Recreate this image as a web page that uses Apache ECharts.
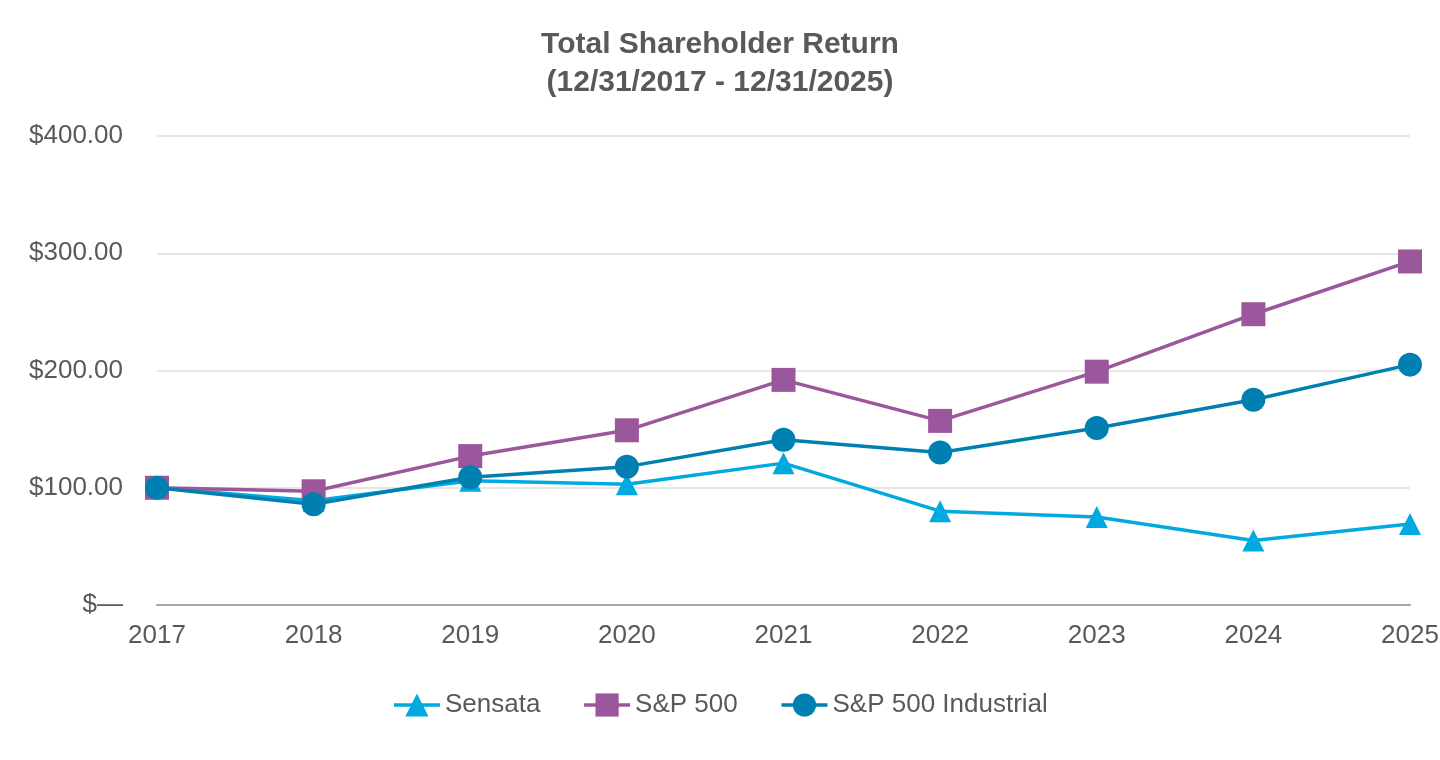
<!DOCTYPE html>
<html lang="en">
<head>
    <meta charset="UTF-8">
    <title>Total Shareholder Return</title>
    <script src="https://cdn.jsdelivr.net/npm/echarts@6/dist/echarts.min.js"></script>
    <style>
        html, body { margin: 0; padding: 0; background: #fff; }
        #main { width: 1440px; height: 760px; }
    </style>
</head>
<body>
<div id="main"></div>
<script type="text/javascript">
    // data
    var years = ['2017', '2018', '2019', '2020', '2021', '2022', '2023', '2024', '2025'];
    var sensata = [100, 89, 106, 103, 121, 80, 75, 55, 69];
    var sp500 = [100, 97, 127, 149, 192, 157, 199, 248, 293];
    var sp500Industrial = [100, 86, 109, 118, 141, 130, 151, 175, 205];
    var yTicks = { 0: '$\u2014', 100: '$100.00', 200: '$200.00', 300: '$300.00', 400: '$400.00' };

    var textColor = '#595959';
    var font = "'Liberation Sans', Arial, sans-serif";

    var myChart = echarts.init(document.getElementById('main'));

    function lineSeries(name, data, color, symbol, size) {
        return {
            name: name,
            type: 'line',
            data: data,
            symbol: symbol,
            symbolSize: size,
            lineStyle: { color: color, width: 3.5 },
            itemStyle: { color: color },
            emphasis: { disabled: true }
        };
    }

    var option = {
        animation: false,
        title: {
            text: 'Total Shareholder Return\n(12/31/2017 - 12/31/2025)',
            left: 'center',
            top: 21,
            textStyle: {
                fontFamily: font,
                fontSize: 30,
                fontWeight: 'bold',
                color: textColor,
                lineHeight: 38
            }
        },
        legend: {
            top: 687,
            left: 'center',
            itemWidth: 46,
            itemHeight: 29,
            itemGap: 42,
            lineStyle: { width: 3.5 },
            textStyle: { fontFamily: font, fontSize: 26, color: textColor },
            data: ['Sensata', 'S&P 500', 'S&P 500 Industrial']
        },
        grid: {
            left: 157,
            right: 30,
            top: 136,
            bottom: 155,
            containLabel: false,
            outerBoundsMode: 'none'
        },
        xAxis: {
            type: 'category',
            boundaryGap: false,
            data: years,
            axisLine: { lineStyle: { color: '#a6a6a6', width: 2 } },
            axisTick: { show: false },
            axisLabel: {
                margin: 18,
                fontFamily: font,
                fontSize: 26,
                color: textColor
            }
        },
        yAxis: {
            type: 'value',
            min: 0,
            max: 400,
            interval: 100,
            axisLine: { show: false },
            axisTick: { show: false },
            splitLine: { lineStyle: { color: '#e6e6e6', width: 2 } },
            axisLabel: {
                margin: 34,
                fontFamily: font,
                fontSize: 26,
                color: textColor,
                formatter: function (v) { return yTicks[v]; }
            }
        },
        series: [
            lineSeries('Sensata', sensata, '#00a9e0', 'triangle', 22),
            lineSeries('S&P 500', sp500, '#9b579b', 'rect', 24),
            lineSeries('S&P 500 Industrial', sp500Industrial, '#0080b0', 'circle', 24)
        ]
    };

    myChart.setOption(option);
</script>
</body>
</html>
